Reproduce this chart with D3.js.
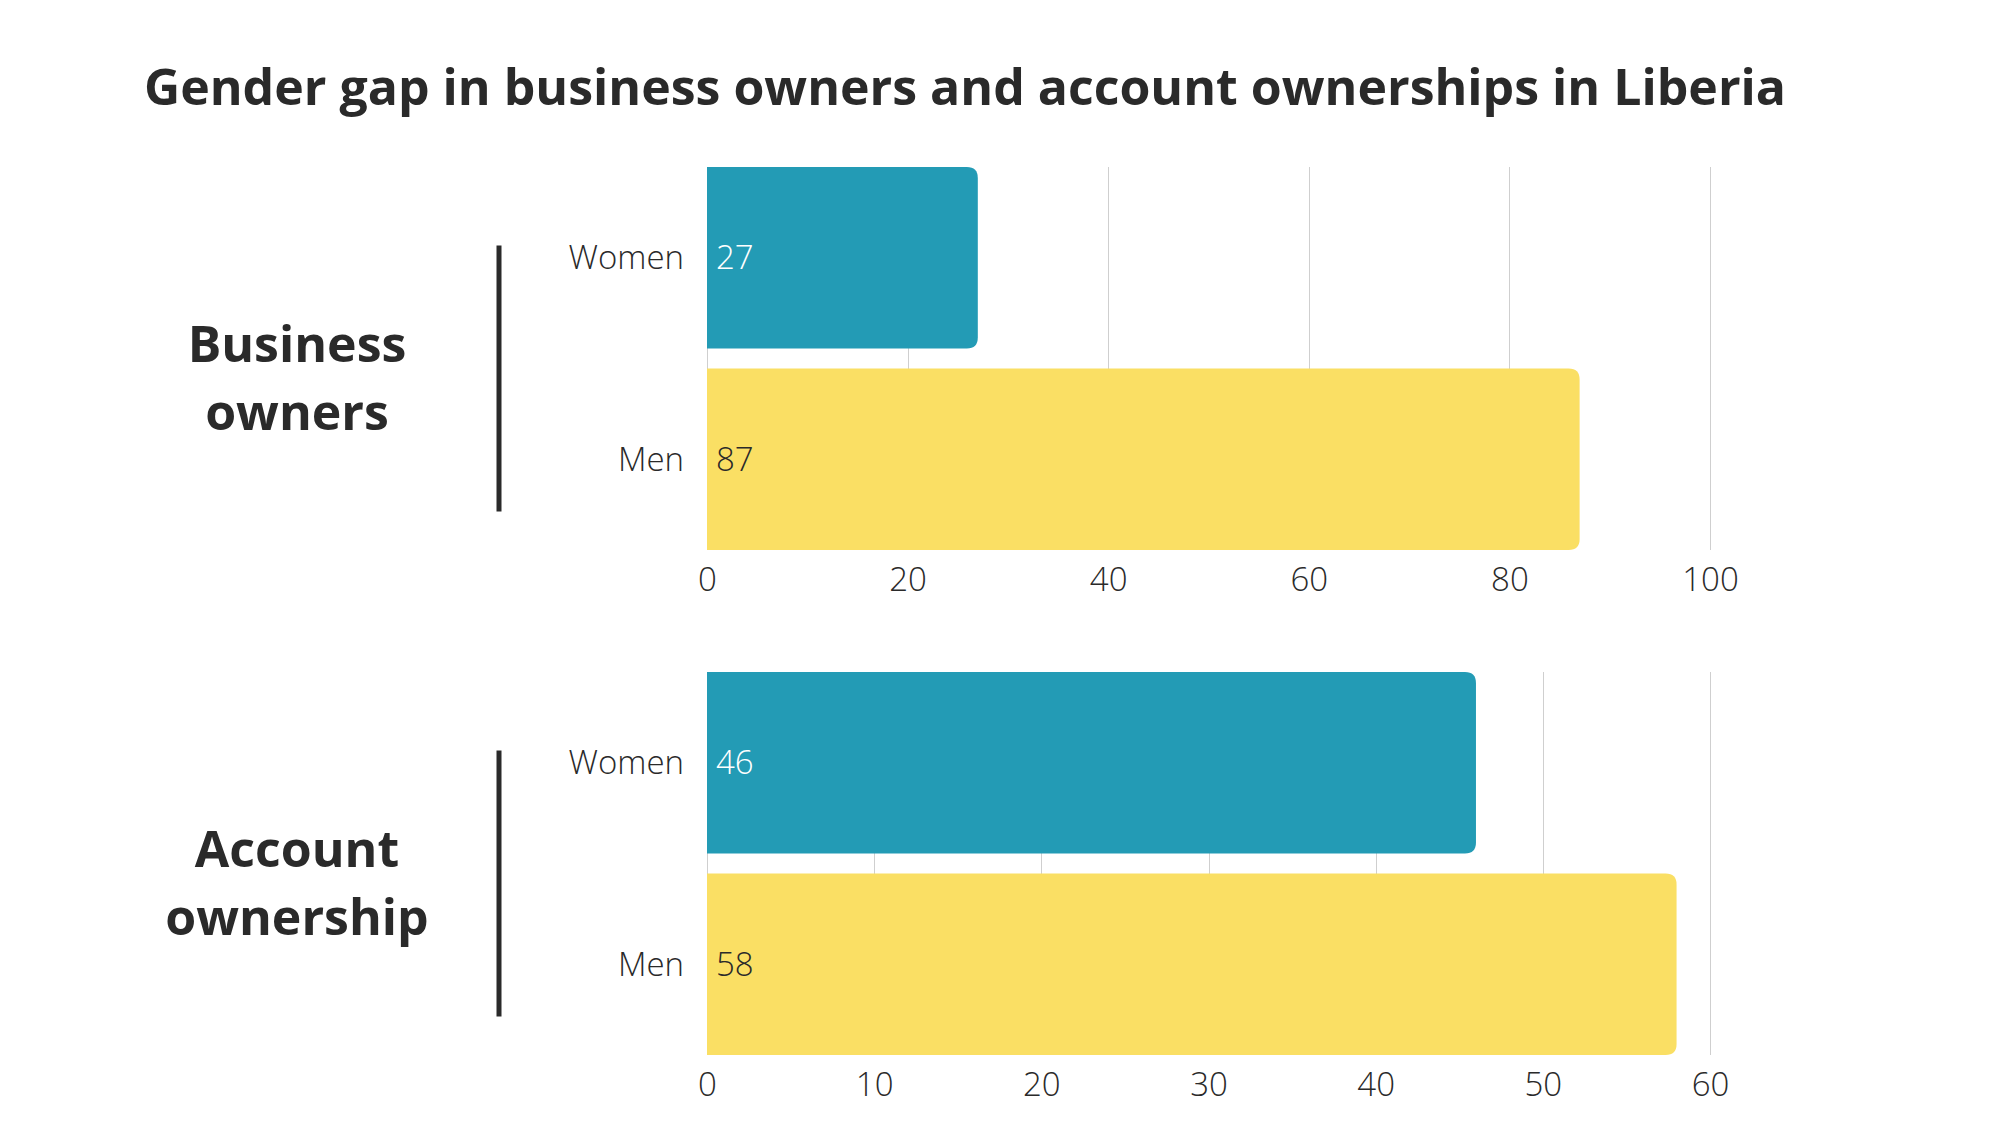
<!DOCTYPE html>
<html><head><meta charset="utf-8">
<script src="https://cdn.jsdelivr.net/npm/d3@7"></script>
<style>
html,body{margin:0;padding:0;background:#fff;}
text{font-family:"Open Sans",sans-serif;}
</style></head>
<body>
<svg id="chart" width="2000" height="1126"></svg>
<script>
const title = "Gender gap in business owners and account ownerships in Liberia";
const categories = ["Women", "Men"];
const groupLabels = [["Business", "owners"], ["Account", "ownership"]];
const businessValues = [27, 87];
const accountValues = [46, 58];
const businessTicks = [0, 20, 40, 60, 80, 100];
const accountTicks = [0, 10, 20, 30, 40, 50, 60];
const colors = ["#239bb5", "#fadf64"];
const valueColors = ["#ffffff", "#2a2a2a"];

const svg = d3.select("#chart");
const ink = "#2a2a2a";

svg.append("text").attr("x", 144).attr("y", 105)
  .attr("font-size", 50).attr("font-weight", 700).attr("fill", ink)
  .text(title);

const panels = [
  {values: businessValues, ticks: businessTicks, labels: groupLabels[0], top: 167, bottom: 550},
  {values: accountValues, ticks: accountTicks, labels: groupLabels[1], top: 672, bottom: 1055}
];

const x0 = 707, x1 = 1710;

function rightRounded(x, y, w, h, r) {
  r = Math.min(r, w, h / 2);
  return `M${x},${y}H${x + w - r}Q${x + w},${y} ${x + w},${y + r}V${y + h - r}Q${x + w},${y + h} ${x + w - r},${y + h}H${x}Z`;
}

panels.forEach(p => {
  const g = svg.append("g");
  const xs = d3.scaleLinear().domain([0, d3.max(p.ticks)]).range([x0, x1]);
  const ys = d3.scaleBand().domain(categories).range([p.top, p.bottom]).paddingInner(0.1).paddingOuter(0);

  g.selectAll("line.grid").data(p.ticks).join("line")
    .attr("x1", d => Math.round(xs(d)) + 0.5).attr("x2", d => Math.round(xs(d)) + 0.5)
    .attr("y1", p.top).attr("y2", p.bottom)
    .attr("stroke", "#cfcfcf").attr("stroke-width", 1);

  g.selectAll("path.bar").data(p.values).join("path")
    .attr("d", (d, i) => rightRounded(xs(0), ys(categories[i]), xs(d) - xs(0), ys.bandwidth(), 11))
    .attr("fill", (d, i) => colors[i]);

  g.selectAll("text.val").data(p.values).join("text")
    .attr("x", xs(0) + 9).attr("y", (d, i) => ys(categories[i]) + ys.bandwidth() / 2)
    .attr("dy", "0.35em").attr("font-size", 33).attr("font-weight", 300).attr("fill", (d, i) => valueColors[i])
    .text(d => d);

  g.selectAll("text.cat").data(categories).join("text")
    .attr("x", 684).attr("y", d => ys(d) + ys.bandwidth() / 2)
    .attr("dy", "0.35em").attr("text-anchor", "end").attr("font-size", 33).attr("font-weight", 300).attr("fill", ink)
    .text(d => d);

  const ax = g.append("g").attr("transform", `translate(0,${p.bottom + 18})`)
    .call(d3.axisBottom(xs).tickValues(p.ticks).tickSize(0).tickPadding(0));
  ax.select(".domain").remove();
  ax.selectAll("text").attr("font-size", 33).attr("font-weight", 300).attr("fill", ink)
    .attr("font-family", "Open Sans").attr("dy", "0.71em");

  const mid = (p.top + p.bottom) / 2;
  g.append("line").attr("x1", 499).attr("x2", 499)
    .attr("y1", mid - 113).attr("y2", mid + 153)
    .attr("stroke", ink).attr("stroke-width", 5);

  g.selectAll("text.grp").data(p.labels).join("text")
    .attr("x", 297).attr("y", (d, i) => mid + 3 + i * 68)
    .attr("text-anchor", "middle").attr("font-size", 50).attr("font-weight", 700).attr("fill", ink)
    .text(d => d);
});
</script>
</body></html>
